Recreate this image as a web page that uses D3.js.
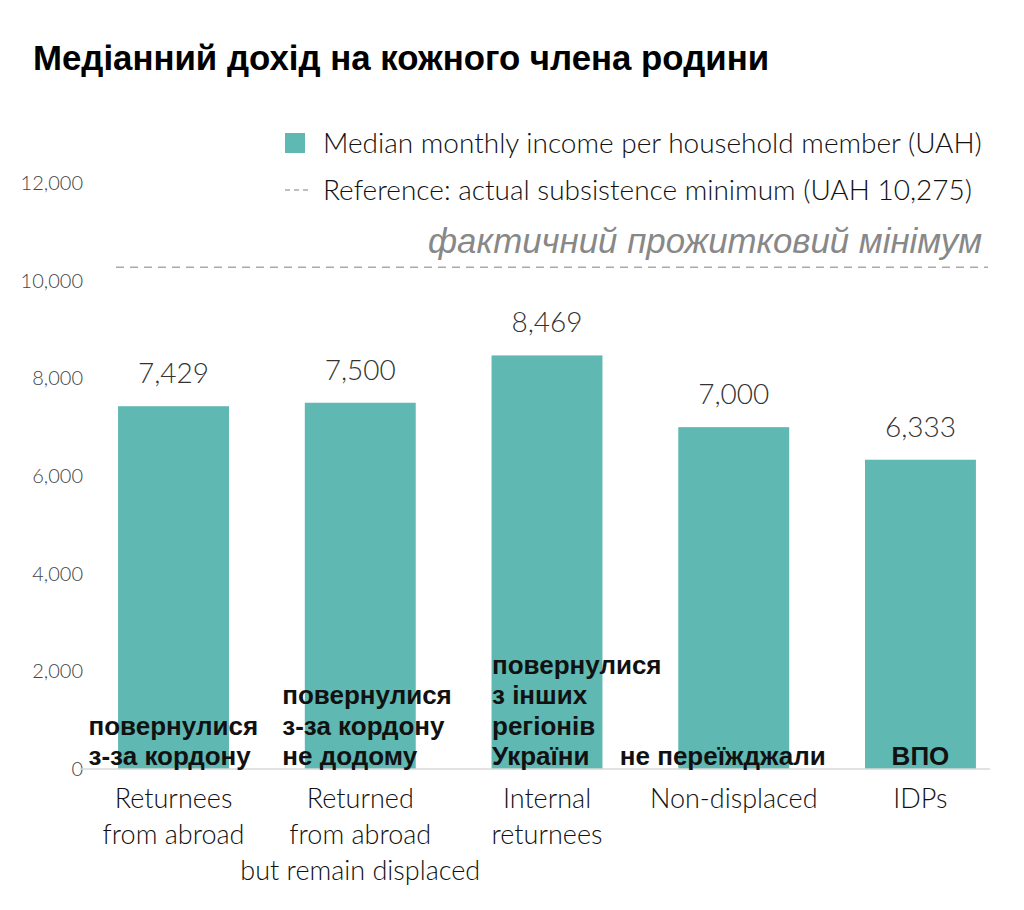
<!DOCTYPE html>
<html>
<head>
<meta charset="utf-8">
<script src="https://cdn.jsdelivr.net/npm/d3@7"></script>
<style>
  body { margin: 0; background: #fff; }
  svg { display: block; }
  .light { font-family: Lato, "Open Sans", sans-serif; font-weight: 300; }
  .bold { font-family: "Liberation Sans", Arial, sans-serif; font-weight: bold; }
</style>
</head>
<body>
<svg id="chart"></svg>
<script>
// Data
const categories = ['Returnees from abroad', 'Returned from abroad but remain displaced', 'Internal returnees', 'Non-displaced', 'IDPs'];
const categoryLines = [
  ['Returnees', 'from abroad'],
  ['Returned', 'from abroad', 'but remain displaced'],
  ['Internal', 'returnees'],
  ['Non-displaced'],
  ['IDPs']
];
const incomes = [7429, 7500, 8469, 7000, 6333];
const ukrLabels = [
  ['повернулися', 'з-за кордону'],
  ['повернулися', 'з-за кордону', 'не додому'],
  ['повернулися', 'з інших', 'регіонів', 'України'],
  ['не переїжджали'],
  ['ВПО']
];
const yTicks = [0, 2000, 4000, 6000, 8000, 10000, 12000];
const subsistenceMin = 10275;
const titleText = 'Медіанний дохід на кожного члена родини';
const legendBar = 'Median monthly income per household member (UAH)';
const legendRef = 'Reference: actual subsistence minimum (UAH 10,275)';
const refNote = 'фактичний прожитковий мінімум';

const width = 1024, height = 910;
const teal = '#5fb8b2';

const svg = d3.select('#chart')
  .attr('width', width)
  .attr('height', height);

// Scales
const x = d3.scaleBand()
  .domain(categories)
  .range([105, 989])
  .paddingInner(0.406)
  .paddingOuter(0.07);

const y = d3.scaleLinear()
  .domain([0, 12000])
  .range([769, 183]);

// Title
svg.append('text')
  .attr('class', 'bold')
  .attr('x', 33)
  .attr('y', 70)
  .attr('font-size', 34.8)
  .attr('fill', '#000')
  .text(titleText);

// Y axis labels (no line)
const yAxis = d3.axisLeft(y)
  .tickValues(yTicks)
  .tickSize(0)
  .tickPadding(0)
  .tickFormat(d3.format(','));

svg.append('g')
  .attr('transform', 'translate(83,0)')
  .call(yAxis)
  .call(g => g.select('.domain').remove())
  .call(g => g.selectAll('text')
    .attr('class', 'light')
    .attr('font-size', 20)
    .attr('fill', '#444'));

// Legend
const legend = svg.append('g');
legend.append('rect')
  .attr('x', 285).attr('y', 133)
  .attr('width', 20).attr('height', 20)
  .attr('fill', teal);
legend.append('line')
  .attr('x1', 285).attr('x2', 311)
  .attr('y1', 190).attr('y2', 190)
  .attr('stroke', '#aaa')
  .attr('stroke-width', 1.5)
  .attr('stroke-dasharray', '5,4');

svg.append('clipPath').attr('id', 'legclip')
  .append('rect').attr('x', 0).attr('y', 0).attr('width', 990).attr('height', height);

legend.append('g').attr('clip-path', 'url(#legclip)')
  .selectAll('text')
  .data([legendBar, legendRef])
  .join('text')
  .attr('class', 'light')
  .attr('x', 323)
  .attr('y', (d, i) => 143 + i * 47)
  .attr('dy', '0.35em')
  .attr('font-size', 28)
  .attr('fill', '#111')
  .text(d => d);

// Reference line
svg.append('line')
  .attr('x1', 116).attr('x2', 988)
  .attr('y1', y(subsistenceMin)).attr('y2', y(subsistenceMin))
  .attr('stroke', '#aaa')
  .attr('stroke-width', 1.5)
  .attr('stroke-dasharray', '8,6');

svg.append('text')
  .attr('x', 982)
  .attr('y', y(subsistenceMin) - 14)
  .attr('text-anchor', 'end')
  .attr('font-family', '"Liberation Sans", Arial, sans-serif')
  .attr('font-style', 'italic')
  .attr('font-size', 34.8)
  .attr('fill', '#888')
  .text(refNote);

// Bars
const rows = categories.map((c, i) => ({ cat: c, value: incomes[i], lines: categoryLines[i], ukr: ukrLabels[i] }));

svg.append('g')
  .selectAll('rect')
  .data(rows)
  .join('rect')
  .attr('x', d => x(d.cat))
  .attr('y', d => y(d.value))
  .attr('width', x.bandwidth())
  .attr('height', d => y(0) - y(d.value))
  .attr('fill', teal);

// Value labels
svg.append('g')
  .selectAll('text')
  .data(rows)
  .join('text')
  .attr('class', 'light')
  .attr('x', d => x(d.cat) + x.bandwidth() / 2)
  .attr('y', d => y(d.value) - 23)
  .attr('text-anchor', 'middle')
  .attr('font-size', 28)
  .attr('fill', '#333')
  .text(d => d3.format(',')(d.value));

// Baseline
svg.append('line')
  .attr('x1', 80).attr('x2', 990)
  .attr('y1', y(0)).attr('y2', y(0))
  .attr('stroke', '#d9d9d9')
  .attr('stroke-width', 1.5);

// Category labels
svg.append('g')
  .selectAll('text')
  .data(rows)
  .join('text')
  .attr('class', 'light')
  .attr('text-anchor', 'middle')
  .attr('font-size', 27)
  .attr('fill', '#111')
  .each(function(d) {
    const cx = x(d.cat) + x.bandwidth() / 2;
    d3.select(this).selectAll('tspan')
      .data(d.lines)
      .join('tspan')
      .attr('x', cx)
      .attr('y', (l, i) => 808 + i * 36)
      .text(l => l);
  });

// Ukrainian overlay labels (left offset from bar centre, or centred)
const ukrOffset = [-85, -78, -55, null, null];
svg.append('g')
  .selectAll('text')
  .data(rows)
  .join('text')
  .attr('class', 'bold')
  .attr('font-size', 26)
  .attr('fill', '#111')
  .attr('text-anchor', (d, i) => ukrOffset[i] === null ? 'middle' : 'start')
  .each(function(d, i) {
    const cx = x(d.cat) + x.bandwidth() / 2;
    const tx = ukrOffset[i] === null ? cx - (i === 3 ? 11 : 0) : cx + ukrOffset[i];
    const n = d.ukr.length;
    d3.select(this).selectAll('tspan')
      .data(d.ukr)
      .join('tspan')
      .attr('x', tx)
      .attr('y', (l, j) => 765 - (n - 1 - j) * 30.5)
      .text(l => l);
  });
</script>
</body>
</html>
